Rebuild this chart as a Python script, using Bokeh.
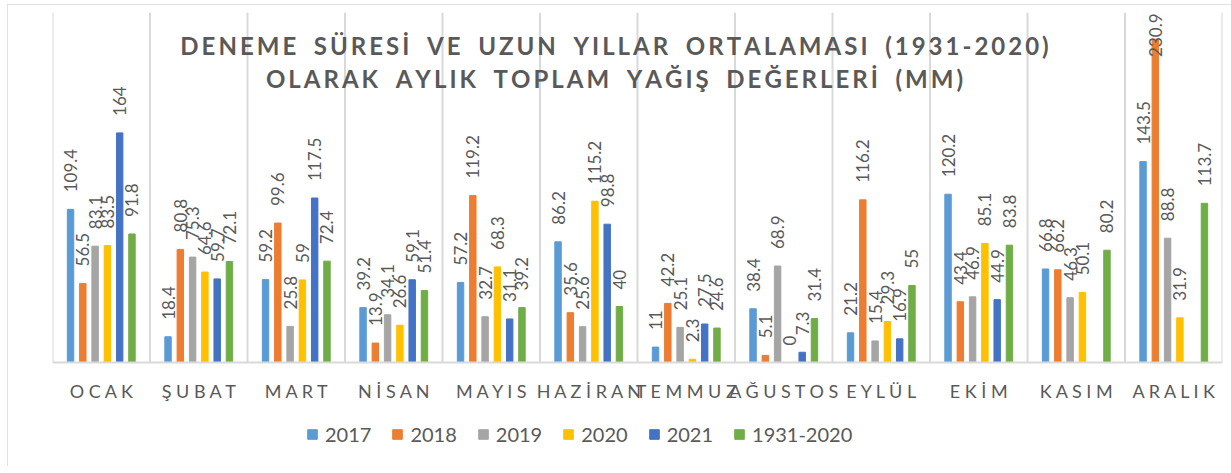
import math
from bokeh.plotting import figure
from bokeh.models import ColumnDataSource, FactorRange, Range1d, Label, Legend, LegendItem
from bokeh.transform import dodge
from bokeh.embed import file_html
from bokeh.resources import INLINE
from bokeh.core.properties import value

months = ["OCAK", "ŞUBAT", "MART", "NİSAN", "MAYIS", "HAZİRAN",
          "TEMMUZ", "AĞUSTOS", "EYLÜL", "EKİM", "KASIM", "ARALIK"]
series = ["2017", "2018", "2019", "2020", "2021", "1931-2020"]
v2017 = [109.4, 18.4, 59.2, 39.2, 57.2, 86.2, 11, 38.4, 21.2, 120.2, 66.8, 143.5]
v2018 = [56.5, 80.8, 99.6, 13.9, 119.2, 35.6, 42.2, 5.1, 116.2, 43.4, 66.2, 230.9]
v2019 = [83.1, 75.3, 25.8, 34.1, 32.7, 25.6, 25.1, 68.9, 15.4, 46.9, 46.3, 88.8]
v2020 = [83.5, 64.6, 59, 26.6, 68.3, 115.2, 2.3, 0, 29.3, 85.1, 50.1, 31.9]
v2021 = [164, 59.7, 117.5, 59.1, 31.1, 98.8, 27.5, 7.3, 16.9, 44.9, None, None]
vnorm = [91.8, 72.1, 72.4, 51.4, 39.2, 40, 24.6, 31.4, 55, 83.8, 80.2, 113.7]
colors = ["#5B9BD5", "#ED7D31", "#A5A5A5", "#FFC000", "#4472C4", "#70AD47"]
title_lines = ["DENEME SÜRESİ VE UZUN YILLAR ORTALAMASI (1931-2020)",
               "OLARAK AYLIK TOPLAM YAĞIŞ DEĞERLERİ (MM)"]

all_vals = [v2017, v2018, v2019, v2020, v2021, vnorm]
YMAX = 250
PLOT_H = 350          # pixels from baseline to top of plot area
BOTTOM_H = 100        # pixels below the baseline kept inside the frame (labels + legend)
PX = PLOT_H / YMAX
GREY = "#595959"
FONT = "Lato"

HAIR = "\u200a"


def fmt(v):
    return str(int(v)) if float(v).is_integer() else f"{v:.1f}"


def spaced_title(s):
    words = s.split(" ")
    return (HAIR * 2 + " \u00a0" + HAIR * 2).join((HAIR * 2).join(list(w)) for w in words)


def spaced_label(s):
    return "\u00a0".join(list(s))


cats = [spaced_label(m) for m in months]

p = figure(x_range=FactorRange(*cats, range_padding=0),
           y_range=Range1d(-BOTTOM_H / PX, YMAX),
           frame_width=1170, frame_height=PLOT_H + BOTTOM_H,
           min_border_left=45, min_border_right=9, min_border_top=8, min_border_bottom=4,
           output_backend="svg", toolbar_location=None)
p.margin = (4, 0, 0, 7)
p.styles = {"outline": "2px solid #d9d9d9", "outline-offset": "-2px"}

# category boundary lines
bounds = ColumnDataSource(dict(x=list(range(len(months) + 1)),
                               y0=[0] * (len(months) + 1),
                               y1=[YMAX] * (len(months) + 1)))
p.segment(x0="x", y0="y0", x1="x", y1="y1", source=bounds, line_color="#d9d9d9", line_width=2)

step = 0.126
width = 0.066
items = []
for i, (name, vals, col) in enumerate(zip(series, all_vals, colors)):
    off = (i - 2.5) * step
    tops = [float("nan") if v is None else v for v in vals]
    src = ColumnDataSource(dict(month=cats, top=tops))
    r = p.vbar(x=dodge("month", off, range=p.x_range), top="top", width=width, bottom=0,
               source=src, fill_color=col, line_color=col)
    items.append(LegendItem(label=name, renderers=[r]))

    norm = dict(month=[], y=[], t=[])
    over = dict(month=[], y=[], t=[])
    for m, v in zip(cats, vals):
        if v is None:
            continue
        t = fmt(v)
        if v * PX + 17 + len(t) * 9 > PLOT_H:
            over["month"].append(m); over["y"].append(YMAX); over["t"].append(t)
        else:
            norm["month"].append(m); norm["y"].append(v); norm["t"].append(t)
    for d, align, yoff in ((norm, "left", -17), (over, "right", 1)):
        if not d["month"]:
            continue
        p.text(x=dodge("month", off, range=p.x_range), y="y", text="t",
               source=ColumnDataSource(d), angle=math.pi / 2, text_align=align,
               text_baseline="middle", y_offset=yoff,
               text_font=value(FONT), text_font_size="17px", text_color=GREY)

p.yaxis.visible = False
p.xgrid.grid_line_color = None
p.ygrid.grid_line_color = None
p.outline_line_color = None
ax = p.xaxis[0]
ax.fixed_location = 0
ax.axis_line_color = "#d9d9d9"
ax.axis_line_width = 2
ax.major_tick_line_color = None
ax.minor_tick_line_color = None
ax.major_tick_out = 0
ax.major_tick_in = 0
ax.major_label_text_font = FONT
ax.major_label_text_font_size = "18px"
ax.major_label_text_color = GREY
ax.major_label_standoff = 17

legend = Legend(items=items, orientation="horizontal", location=(254, 16),
                label_text_font=FONT, label_text_font_size="20px", label_text_color=GREY,
                glyph_width=12, glyph_height=12, label_standoff=7, spacing=20,
                border_line_color=None, background_fill_alpha=0, margin=0, padding=4)
p.add_layout(legend, "center")

for line, ypos in zip(title_lines, [317 + BOTTOM_H, 284 + BOTTOM_H]):
    p.add_layout(Label(x=562, y=ypos, x_units="screen", y_units="screen",
                       text=spaced_title(line), text_align="center", text_baseline="middle",
                       text_font=FONT, text_font_style="bold", text_font_size="24px",
                       text_color=GREY))

open("out.html", "w").write(file_html(p, INLINE))
